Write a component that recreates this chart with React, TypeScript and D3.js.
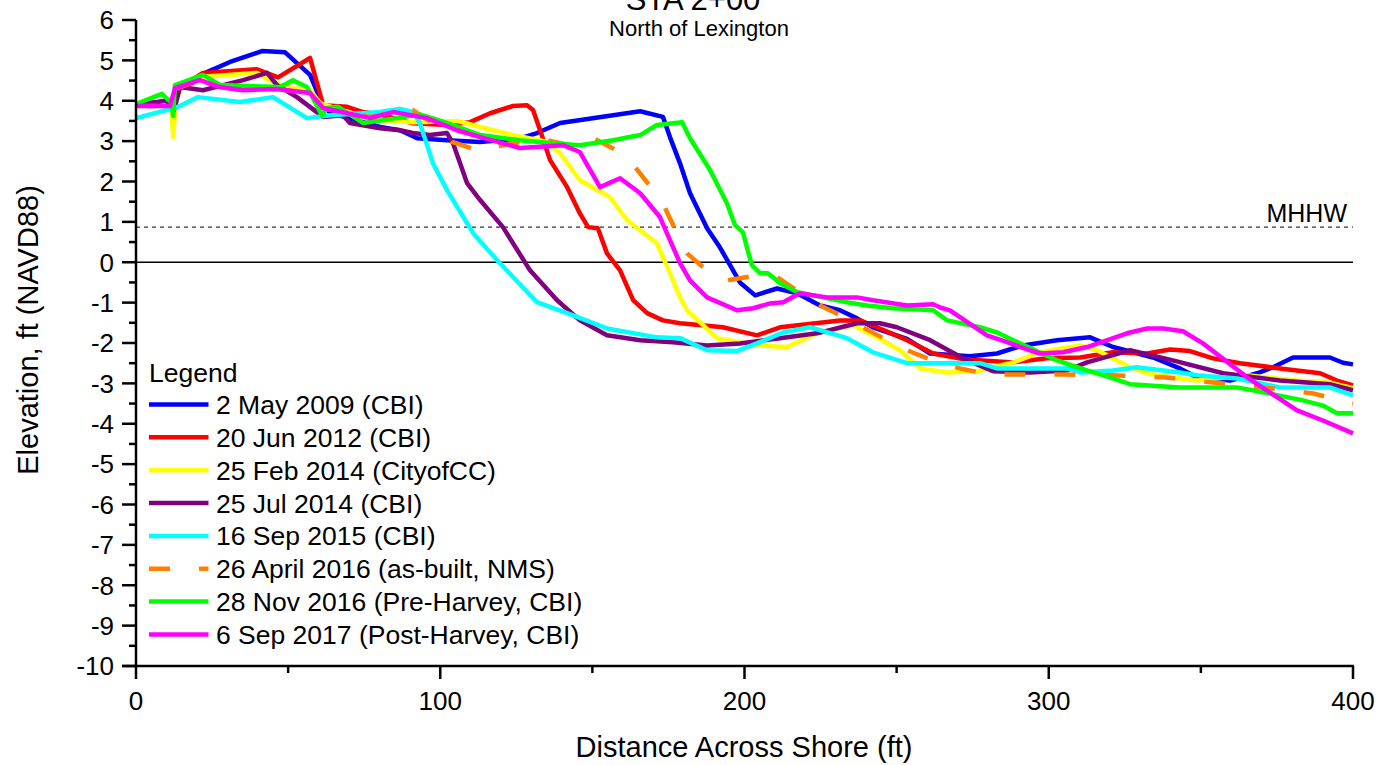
import React from "react";
import * as d3 from "d3";

type Pt = [number, number];

const TITLE = "STA 2+00";
const SUBTITLE = "North of Lexington";
const X_LABEL = "Distance Across Shore (ft)";
const Y_LABEL = "Elevation, ft (NAVD88)";
const MHHW = 0.87;

const X_TICKS = [0, 100, 200, 300, 400];
const X_MINOR = [50, 150, 250, 350];
const Y_TICKS = [6, 5, 4, 3, 2, 1, 0, -1, -2, -3, -4, -5, -6, -7, -8, -9, -10];

const may2009: Pt[] = [[0,3.9],[12,4.0],[14.5,4.35],[23.3,4.71],[30.9,4.96],[41.4,5.23],[49,5.2],[57.2,4.64],[61.1,3.94],[63.8,3.7],[80.2,3.35],[86.8,3.27],[92.4,3.07],[102.2,3.02],[113.1,2.98],[126.2,3.07],[131.8,3.2],[139.4,3.45],[156.8,3.64],[165.7,3.74],[173.2,3.6],[175.5,3.1],[178.8,2.45],[182.1,1.71],[187.7,0.84],[191.9,0.37],[198.5,-0.5],[203.5,-0.82],[210.7,-0.65],[217.3,-0.77],[224.8,-1.07],[231.4,-1.19],[237,-1.39],[242.2,-1.61],[253.4,-1.9],[261,-2.26],[274.1,-2.33],[283,-2.26],[291.5,-2.06],[302.7,-1.93],[313.6,-1.86],[321.1,-2.1],[334.3,-2.36],[343.1,-2.63],[348.7,-2.85],[359.6,-2.93],[368.5,-2.75],[373.7,-2.6],[380.3,-2.36],[392.4,-2.36],[396.7,-2.49],[400,-2.53]];

const jun2012: Pt[] = [[0,3.9],[12,4.0],[14,4.3],[22,4.69],[39.8,4.78],[46.7,4.58],[57.2,5.06],[61.5,3.89],[69.4,3.85],[74.6,3.72],[80.2,3.66],[91,3.44],[102.2,3.4],[109.8,3.47],[116.4,3.69],[123.9,3.87],[128.5,3.89],[130.5,3.77],[132.8,3.27],[136.1,2.53],[141.7,1.86],[145.9,1.21],[148.6,0.87],[151.8,0.84],[154.8,0.22],[159.1,-0.2],[163.4,-0.94],[168,-1.26],[173.2,-1.44],[178.8,-1.51],[192.9,-1.61],[204.1,-1.81],[211.7,-1.61],[231.4,-1.44],[238,-1.44],[244.5,-1.64],[253.4,-1.93],[262,-2.26],[271.8,-2.4],[288.3,-2.48],[299.4,-2.38],[310.3,-2.36],[321.1,-2.23],[332.3,-2.26],[339.9,-2.16],[346.4,-2.2],[354,-2.38],[362.9,-2.5],[376,-2.63],[389.2,-2.75],[394.7,-2.93],[400,-3.05]];

const feb2014: Pt[] = [[0,3.9],[11.5,3.95],[12.2,3.1],[13,3.9],[14.5,4.3],[23.3,4.6],[39.8,4.69],[44,4.5],[49.6,4.33],[57.2,4.26],[60.5,3.94],[70,3.7],[80.2,3.52],[91,3.47],[105.5,3.5],[113.1,3.35],[123.9,3.15],[135.1,2.98],[139.4,2.7],[145.9,2.03],[155.8,1.61],[161.4,1.04],[171.2,0.47],[175.5,-0.27],[178.8,-0.87],[181.1,-1.19],[191,-1.88],[204.1,-2.06],[214,-2.1],[223.8,-1.76],[235.7,-1.56],[244.5,-1.9],[251.1,-2.18],[257.7,-2.63],[266.6,-2.73],[276.4,-2.7],[288.3,-2.48],[297.1,-2.23],[310.3,-2.06],[315.9,-2.18],[326.7,-2.6],[332.3,-2.75],[343.1,-2.88],[348.7,-2.93],[365.2,-2.8],[381.6,-2.93],[392.4,-2.98],[400,-3.12]];

const jul2014: Pt[] = [[0,3.9],[10,4.0],[12.5,3.77],[14.5,4.34],[22,4.26],[35.2,4.51],[43.1,4.69],[46.3,4.39],[52.9,4.09],[61.5,3.6],[68,3.64],[70.3,3.45],[80.2,3.32],[86.8,3.27],[91,3.2],[96.6,3.15],[102.2,3.2],[104.2,2.95],[108.8,1.96],[113.1,1.54],[120.6,0.87],[129.5,-0.2],[138.4,-0.94],[145.9,-1.44],[154.8,-1.81],[165.7,-1.93],[176.5,-1.98],[187.7,-2.06],[198.5,-2.01],[211.7,-1.88],[223.8,-1.76],[237,-1.51],[244.5,-1.51],[250.1,-1.61],[261,-1.93],[271.8,-2.38],[281.7,-2.7],[293.8,-2.73],[306,-2.68],[312.6,-2.48],[326.7,-2.18],[340.8,-2.43],[357.3,-2.75],[376,-2.93],[392.4,-3.02],[400,-3.17]];

const sep2015: Pt[] = [[0,3.57],[13.5,3.84],[20.4,4.09],[34.2,3.97],[45,4.09],[56.2,3.57],[63.8,3.64],[74.6,3.69],[80.2,3.72],[86.8,3.8],[91,3.72],[93.3,3.45],[97.6,2.45],[102.2,1.79],[110.8,0.72],[118.7,0.05],[131.8,-0.99],[141.7,-1.26],[154.8,-1.64],[171.2,-1.86],[178.8,-1.88],[187.7,-2.18],[197.5,-2.2],[204.1,-2.01],[212.7,-1.74],[221.5,-1.61],[233.7,-1.88],[242.2,-2.23],[253.4,-2.5],[277.4,-2.5],[283,-2.63],[306,-2.63],[310.3,-2.73],[321.1,-2.68],[329,-2.6],[343.1,-2.73],[348.7,-2.8],[361.9,-2.88],[376,-3.1],[392.4,-3.1],[400,-3.3]];

const apr2016: Pt[] = [[0,3.87],[11,3.87],[13,4.3],[21,4.5],[27.6,4.34],[35.2,4.26],[46.3,4.29],[57.2,4.19],[61.5,3.82],[70,3.68],[77,3.6],[84,3.7],[91,3.77],[99.9,3.32],[103.9,2.98],[113.1,2.75],[117.3,2.85],[129.5,3.02],[135.1,3.02],[145.9,2.85],[150.9,3.05],[159.1,2.73],[164,2.36],[169.9,1.79],[173.9,1.34],[178.1,0.67],[181.1,0.22],[188.7,-0.27],[194.2,-0.45],[204.4,-0.32],[210.7,-0.37],[220.5,-0.87],[224.8,-1.07],[233.7,-1.39],[239.6,-1.64],[248.8,-2.01],[255.1,-2.23],[264.3,-2.5],[270.8,-2.63],[280.7,-2.78],[304.4,-2.78],[320.8,-2.8],[337.6,-2.85],[354,-2.98],[370.4,-3.1],[386.9,-3.25],[400,-3.5]];

const nov2016: Pt[] = [[0,3.92],[8.5,4.17],[11.8,3.94],[12.2,3.62],[12.8,4.39],[22,4.64],[27.6,4.39],[47.3,4.34],[51.6,4.51],[56.2,4.34],[61.1,3.64],[62.8,3.82],[66.4,3.85],[74.6,3.45],[85.8,3.57],[93.3,3.66],[102.2,3.45],[113.1,3.15],[126.2,3.02],[137.1,2.95],[145.9,2.9],[156.8,3.02],[165.7,3.15],[171.2,3.4],[179.5,3.47],[182.1,3.07],[188.7,2.28],[194.2,1.46],[196.9,0.92],[199.5,0.74],[200.8,0.37],[202.4,-0.07],[205.1,-0.27],[207.7,-0.27],[211.7,-0.52],[217.3,-0.74],[225.8,-0.87],[233.7,-0.99],[240.3,-1.07],[248.8,-1.14],[262,-1.19],[266.6,-1.44],[277.4,-1.61],[283,-1.74],[290.5,-2.01],[302.7,-2.43],[312.6,-2.68],[320.1,-2.85],[326.7,-3.02],[343.1,-3.1],[361.9,-3.1],[370.4,-3.22],[383.6,-3.42],[390.1,-3.55],[394.7,-3.74],[400,-3.74]];

const sep2017: Pt[] = [[0,3.87],[11.2,3.87],[12.8,4.31],[21,4.51],[27.6,4.34],[35.2,4.26],[46.3,4.29],[57.2,4.19],[61.5,3.82],[76.9,3.57],[84.5,3.72],[95.6,3.57],[105.5,3.27],[113.1,3.1],[126.2,2.83],[140.3,2.9],[145.9,2.73],[152.5,1.86],[159.1,2.08],[165.7,1.71],[172.2,1.12],[178.8,-0.02],[182.1,-0.45],[187.7,-0.87],[197.5,-1.19],[202.8,-1.14],[208.4,-1.02],[212.7,-0.99],[218.2,-0.77],[227.1,-0.87],[237,-0.87],[242.2,-0.94],[253.4,-1.07],[262,-1.04],[264.3,-1.12],[267.5,-1.19],[279.7,-1.81],[286.3,-1.98],[293.8,-2.18],[297.1,-2.26],[304.7,-2.23],[312.6,-2.1],[325.7,-1.76],[332.3,-1.64],[337.6,-1.64],[344.1,-1.71],[350.7,-2.01],[365.2,-2.85],[381.6,-3.67],[390.1,-3.92],[400,-4.24]];

const SERIES_NAMES = [
  "2 May 2009 (CBI)",
  "20 Jun 2012 (CBI)",
  "25 Feb 2014 (CityofCC)",
  "25 Jul 2014 (CBI)",
  "16 Sep 2015 (CBI)",
  "26 April 2016 (as-built, NMS)",
  "28 Nov 2016 (Pre-Harvey, CBI)",
  "6 Sep 2017 (Post-Harvey, CBI)",
];
const SERIES_DATA = [may2009, jun2012, feb2014, jul2014, sep2015, apr2016, nov2016, sep2017];
const SERIES_COLORS = ["#0000FF", "#FF0000", "#FFFF00", "#800080", "#00FFFF", "#FF8000", "#00FF00", "#FF00FF"];
const SERIES_DASH = [null, null, null, null, null, "21,29", null, null];

const W = 1394;
const H = 765;
const FONT = "'Liberation Sans', Arial, Helvetica, sans-serif";

export default function App() {
  const x = d3.scaleLinear().domain([0, 400]).range([136, 1353]);
  const y = d3.scaleLinear().domain([-10, 6]).range([666, 20]);
  const line = d3
    .line<Pt>()
    .x((d) => x(d[0]))
    .y((d) => y(d[1]));

  const yMinor = d3.range(-9.5, 6, 1);
  const legendX = 149;
  const legendY0 = 404.5;
  const legendStep = 32.85;

  return (
    <svg
      width={W}
      height={H}
      style={{ position: "absolute", left: 0, top: 0, display: "block", background: "#fff" }}
      fontFamily={FONT}
    >
      <rect x={0} y={0} width={W} height={H} fill="#fff" />
      {/* titles */}
      <text x={693} y={10} textAnchor="middle" fontSize={31} fill="#000">{TITLE}</text>
      <text x={699} y={36} textAnchor="middle" fontSize={22} fill="#000">{SUBTITLE}</text>

      {/* reference lines */}
      <line x1={x(0)} x2={x(400)} y1={y(0)} y2={y(0)} stroke="#000" strokeWidth={1.3} />
      <line x1={x(0)} x2={x(400)} y1={y(MHHW)} y2={y(MHHW)} stroke="#333" strokeWidth={1.2} strokeDasharray="4,4" />
      <text x={1347} y={222} textAnchor="end" fontSize={25} fill="#000">MHHW</text>

      {/* series */}
      {SERIES_DATA.map((d, i) => (
        <path
          key={i}
          d={line(d) || ""}
          fill="none"
          stroke={SERIES_COLORS[i]}
          strokeWidth={4.5}
          strokeLinejoin="round"
          strokeDasharray={SERIES_DASH[i] || undefined}
        />
      ))}

      {/* axes */}
      <line x1={x(0)} x2={x(0)} y1={y(6)} y2={y(-10)} stroke="#000" strokeWidth={2.5} />
      <line x1={122} x2={x(400) + 1} y1={y(-10)} y2={y(-10)} stroke="#000" strokeWidth={2.5} />
      {Y_TICKS.map((t) => (
        <g key={"yt" + t}>
          <line x1={122} x2={x(0)} y1={y(t)} y2={y(t)} stroke="#000" strokeWidth={2.5} />
          <text x={114} y={y(t)} dy="0.36em" textAnchor="end" fontSize={26} fill="#000">{t}</text>
        </g>
      ))}
      {yMinor.map((t) => (
        <line key={"ym" + t} x1={129} x2={x(0)} y1={y(t)} y2={y(t)} stroke="#000" strokeWidth={2.5} />
      ))}
      {X_TICKS.map((t) => (
        <g key={"xt" + t}>
          <line x1={x(t)} x2={x(t)} y1={y(-10)} y2={y(-10) + 13} stroke="#000" strokeWidth={2.5} />
          <text x={x(t)} y={701} dy="0.36em" textAnchor="middle" fontSize={26} fill="#000">{t}</text>
        </g>
      ))}
      {X_MINOR.map((t) => (
        <line key={"xm" + t} x1={x(t)} x2={x(t)} y1={y(-10)} y2={y(-10) + 7} stroke="#000" strokeWidth={2.5} />
      ))}

      {/* axis titles */}
      <text x={744} y={747} dy="0.36em" textAnchor="middle" fontSize={29} fill="#000">{X_LABEL}</text>
      <text transform={`translate(28,330) rotate(-90)`} dy="0.36em" textAnchor="middle" fontSize={29} fill="#000">{Y_LABEL}</text>

      {/* legend */}
      <text x={legendX} y={372.7} dy="0.36em" fontSize={26.5} fill="#000">Legend</text>
      {SERIES_NAMES.map((name, i) => {
        const ly = legendY0 + i * legendStep;
        return (
          <g key={"lg" + i}>
            <line
              x1={legendX}
              x2={208.5}
              y1={ly}
              y2={ly}
              stroke={SERIES_COLORS[i]}
              strokeWidth={4.5}
              strokeDasharray={SERIES_DASH[i] || undefined}
            />
            <text x={216} y={ly} dy="0.36em" fontSize={26.5} fill="#000">{name}</text>
          </g>
        );
      })}
    </svg>
  );
}
